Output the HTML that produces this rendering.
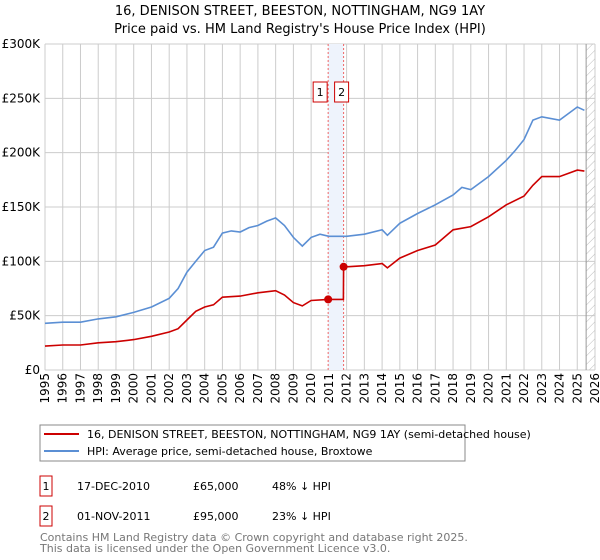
<!DOCTYPE html>
<html><head><meta charset="utf-8"><style>
body{margin:0;background:#fff;font-family:"Liberation Sans","DejaVu Sans",sans-serif;}
#wrap{position:relative;width:600px;height:560px;overflow:hidden;}
</style></head><body><div id="wrap">
<svg id="svg" width="600" height="560" xmlns="http://www.w3.org/2000/svg" font-family="DejaVu Sans, Liberation Sans, sans-serif">
<defs><pattern id="hatch" width="6" height="6" patternUnits="userSpaceOnUse" patternTransform="rotate(45)"><line x1="0" y1="0" x2="0" y2="6" stroke="#bbb" stroke-width="1"/></pattern></defs>
<text x="300" y="15" text-anchor="middle" font-size="13">16, DENISON STREET, BEESTON, NOTTINGHAM, NG9 1AY</text>
<text x="300" y="33" text-anchor="middle" font-size="13">Price paid vs. HM Land Registry's House Price Index (HPI)</text>
<g id="grid"></g><g id="marks"></g><g id="axes"></g>
<g>
<rect x="40" y="425" width="425" height="36" fill="#fff" stroke="#888"/>
<line x1="44" y1="434" x2="79" y2="434" stroke="#cc0000" stroke-width="2"/>
<text x="87" y="438" font-size="11">16, DENISON STREET, BEESTON, NOTTINGHAM, NG9 1AY (semi-detached house)</text>
<line x1="44" y1="451" x2="79" y2="451" stroke="#5b8fd4" stroke-width="2"/>
<text x="87" y="455" font-size="11">HPI: Average price, semi-detached house, Broxtowe</text>
</g>
<g font-size="11">
<rect x="40" y="476" width="12" height="20" fill="none" stroke="#cc0000"/><text x="46" y="490" text-anchor="middle">1</text>
<text x="77" y="490">17-DEC-2010</text><text x="193" y="490">£65,000</text><text x="272" y="490">48% ↓ HPI</text>
<rect x="40" y="506" width="12" height="20" fill="none" stroke="#cc0000"/><text x="46" y="520" text-anchor="middle">2</text>
<text x="77" y="520">01-NOV-2011</text><text x="193" y="520">£95,000</text><text x="272" y="520">23% ↓ HPI</text>
</g>
<text x="40" y="541" font-size="11" fill="#777">Contains HM Land Registry data © Crown copyright and database right 2025.</text>
<text x="40" y="552" font-size="11" fill="#777">This data is licensed under the Open Government Licence v3.0.</text>
</svg></div>
<script>
const hpiYears=[1995,1996,1997,1998,1999,2000,2001,2002,2002.5,2003,2003.5,2004,2004.5,2005,2005.5,2006,2006.5,2007,2007.5,2008,2008.5,2009,2009.5,2010,2010.5,2011,2012,2013,2014,2014.3,2015,2016,2017,2018,2018.5,2019,2020,2021,2021.5,2022,2022.5,2023,2024,2025,2025.4];
const hpiValues=[43,44,44,47,49,53,58,66,75,90,100,110,113,126,128,127,131,133,137,140,133,122,114,122,125,123,123,125,129,124,135,144,152,161,168,166,178,193,202,212,230,233,230,242,239];
const redYears=[1995,1996,1997,1998,1999,2000,2001,2002,2002.5,2003,2003.5,2004,2004.5,2005,2006,2007,2008,2008.5,2009,2009.5,2010,2010.96,2011.82,2011.83,2012,2013,2014,2014.3,2015,2016,2017,2018,2019,2020,2021,2022,2022.5,2023,2024,2025,2025.4];
const redValues=[22,23,23,25,26,28,31,35,38,46,54,58,60,67,68,71,73,69,62,59,64,65,65,95,95,96,98,94,103,110,115,129,132,141,152,160,170,178,178,184,183];
const saleYears=[2010.96,2011.83];
const saleValues=[65,95];
const yTicks=[0,50,100,150,200,250,300];
const yLabels=["£0","£50K","£100K","£150K","£200K","£250K","£300K"];
const NS="http://www.w3.org/2000/svg";
const X=y=>45+(y-1995)*(550/31);
const Y=v=>370-v*(326/300);
function mk(t,a,p){const e=document.createElementNS(NS,t);for(const k in a)e.setAttribute(k,a[k]);p.appendChild(e);return e;}
const grid=document.getElementById('grid'),marks=document.getElementById('marks'),axes=document.getElementById('axes');
for(let yr=1995;yr<=2026;yr++){
 const l=mk('line',{x1:X(yr),x2:X(yr),y1:44,y2:370,stroke:'#ccc'},grid);
 
 
 const t=mk('text',{x:0,y:0,'font-size':12,transform:`translate(${X(yr)+4},373) rotate(-90)`,'text-anchor':'end'},axes);
 t.textContent=yr;
 
 
}
yTicks.forEach((v,i)=>{
 const l=mk('line',{x1:45,x2:595,y1:Y(v),y2:Y(v),stroke:'#ccc'},grid);
 
 
 const t=mk('text',{x:40,y:Y(v)+4,'font-size':12,'text-anchor':'end'},axes);
 t.textContent=yLabels[i];
 
 
});
const hat=mk('rect',{x:X(2025.5),y:44,width:595-X(2025.5),height:326,fill:'url(#hatch)'},grid);


mk('line',{x1:X(2025.5),x2:X(2025.5),y1:44,y2:370,stroke:'#999'},grid);
const band=mk('rect',{x:X(saleYears[0]),y:44,width:X(saleYears[1])-X(saleYears[0]),height:326,fill:'#eef3fc'},grid);


saleYears.forEach((s,i)=>{
 const l=mk('line',{x1:X(s),x2:X(s),y1:44,y2:370,stroke:'#e66','stroke-dasharray':'2,2'},grid);
 
 
});
function path(xs,vs,col,name){
 const p=mk('path',{d:xs.map((x,i)=>(i?'L':'M')+X(x).toFixed(1)+','+Y(vs[i]).toFixed(1)).join(''),fill:'none',stroke:col,'stroke-width':1.6},marks);
 
 
}
path(hpiYears,hpiValues,'#5b8fd4','hpi-line');
path(redYears,redValues,'#cc0000','price-paid-line');
saleYears.forEach((s,i)=>{
 const c=mk('circle',{cx:X(s),cy:Y(saleValues[i]),r:4,fill:'#cc0000'},marks);
 
 
 const bx=i==0?X(s)-15:X(s)-9;
 const b=mk('rect',{x:bx,y:82,width:14,height:20,fill:'#fff',stroke:'#cc0000'},marks);
 
 
 const t=mk('text',{x:bx+7,y:96,'font-size':11,'text-anchor':'middle'},marks);
 t.textContent=String(i+1);
 
 
});
</script></body></html>
